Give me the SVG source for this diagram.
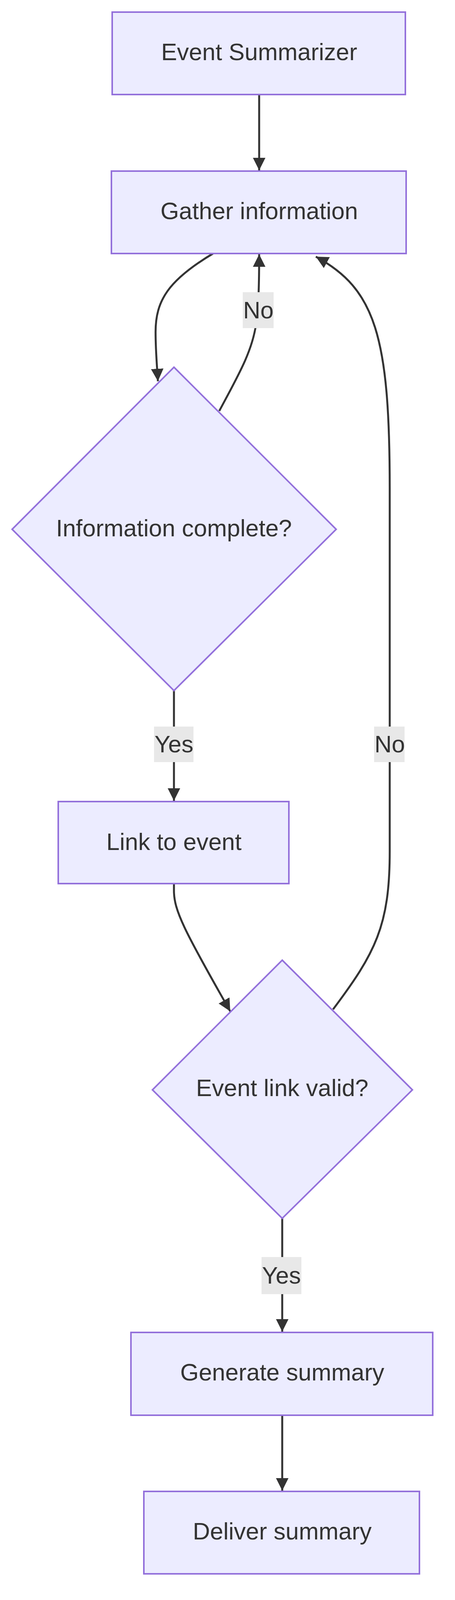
<svg xmlns="http://www.w3.org/2000/svg" width="1164" height="4160" viewBox="0 0 1164 4160">
<style>
.node rect,.node polygon{fill:#ECECFF;stroke:#9370DB;stroke-width:4}
.node text{font-family:"Liberation Sans",Arial,sans-serif;font-size:61px;fill:#333;text-anchor:middle;dominant-baseline:central}
.edge{fill:none;stroke:#333;stroke-width:5}
.lbl rect{fill:#e8e8e8}
.lbl text{font-family:"Liberation Sans",Arial,sans-serif;font-size:61px;fill:#333;text-anchor:middle;dominant-baseline:central}
</style>
<defs>
<marker id="arr" markerUnits="userSpaceOnUse" markerWidth="32" markerHeight="32" viewBox="0 0 10 10" refX="10" refY="5" orient="auto">
<path d="M0,0 L10,5 L0,10 z" fill="#333"/>
</marker>
</defs>
<rect width="1164" height="4160" fill="#fff"/>
<g id="connectors">
<path class="edge" d="M663,242 L663,436" marker-end="url(#arr)"/>
<path class="edge" d="M545,649 C430,718 398,770 398,850 C398,900 402,940 404,976" marker-end="url(#arr)"/>
<path class="edge" d="M561,1052 C610,960 645,900 655,830 C662,780 663,720 663,651" marker-end="url(#arr)"/>
<path class="edge" d="M445,1768 L445,2050" marker-end="url(#arr)"/>
<path class="edge" d="M445,2262 L445,2280 C445,2330 470,2380 589,2589" marker-end="url(#arr)"/>
<path class="edge" d="M852,2584 C960,2440 997,2370 997,2180 L997,1250 C997,860 960,740 808,657" marker-end="url(#arr)"/>
<path class="edge" d="M722,3119 L722,3409" marker-end="url(#arr)"/>
<path class="edge" d="M722,3623 L722,3816" marker-end="url(#arr)"/>
</g>
<g class="lbl" id="label-no1"><rect x="621" y="748" width="79" height="92"/><text x="661" y="794">No</text></g>
<g class="lbl" id="label-yes1"><rect x="394" y="1860" width="101" height="91"/><text x="445" y="1905">Yes</text></g>
<g class="lbl" id="label-no2"><rect x="957" y="1860" width="78" height="91"/><text x="997" y="1905">No</text></g>
<g class="lbl" id="label-yes2"><rect x="669" y="3218" width="102" height="95"/><text x="720" y="3265">Yes</text></g>
<g class="node" id="event-summarizer"><rect x="287" y="31" width="750" height="211"/><text x="663" y="133">Event Summarizer</text></g>
<g class="node" id="gather-information"><rect x="285" y="438" width="754" height="211"/><text x="663" y="540">Gather information</text></g>
<g class="node" id="information-complete"><polygon points="445,940 860,1355 445,1768 31,1355"/><text x="445" y="1352">Information complete?</text></g>
<g class="node" id="link-to-event"><rect x="149" y="2052" width="590" height="210"/><text x="445" y="2155">Link to event</text></g>
<g class="node" id="event-link-valid"><polygon points="722,2458 1055,2790 722,3119 390,2790"/><text x="722" y="2785">Event link valid?</text></g>
<g class="node" id="generate-summary"><rect x="335" y="3411" width="772" height="212"/><text x="722" y="3513">Generate summary</text></g>
<g class="node" id="deliver-summary"><rect x="368" y="3818" width="705" height="211"/><text x="722" y="3920">Deliver summary</text></g>
</svg>
